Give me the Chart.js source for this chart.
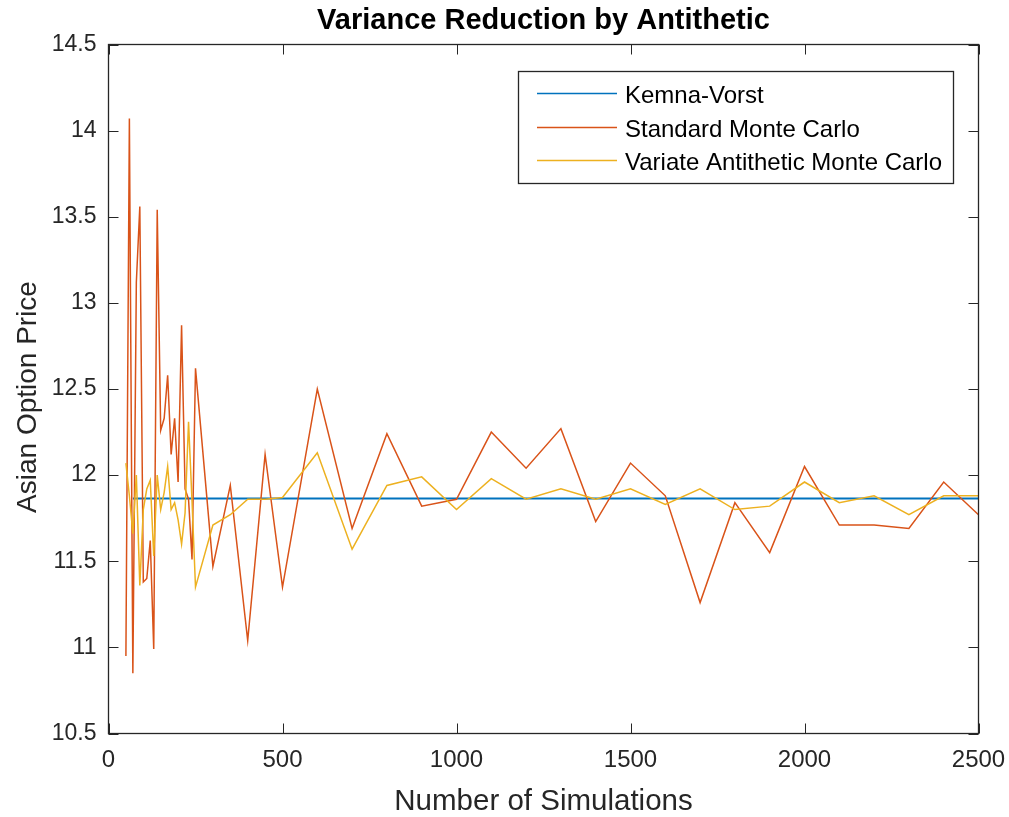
<!DOCTYPE html>
<html>
<head>
<meta charset="utf-8">
<title>Variance Reduction by Antithetic</title>
<script src="https://cdn.jsdelivr.net/npm/chart.js@4.4.1/dist/chart.umd.min.js"></script>
<style>
  html, body { margin: 0; padding: 0; background: #fff; }
  #chart-box { width: 1009px; height: 817px; position: relative; }
</style>
</head>
<body>
<div id="chart-box"><canvas id="price-chart"></canvas></div>
<script>
// number of simulations used for each estimate
const simCounts = [
  50, 60, 70, 80, 90, 100, 110, 120, 130, 140, 150, 160, 170, 180, 190, 200,
  210, 220, 230, 240, 250, 300, 350, 400, 450, 500, 600, 700, 800, 900, 1000,
  1100, 1200, 1300, 1400, 1500, 1600, 1700, 1800, 1900, 2000, 2100, 2200,
  2300, 2400, 2500
];

const standardMC = [
  10.95, 14.07, 10.85, 13.12, 13.56, 11.38, 11.40, 11.62, 10.99, 13.54, 12.26,
  12.33, 12.58, 12.12, 12.33, 11.96, 12.87, 11.92, 11.86, 11.51, 12.62, 11.47,
  11.94, 11.04, 12.12, 11.35, 12.50, 11.69, 12.24, 11.82, 11.86, 12.25, 12.04,
  12.27, 11.73, 12.07, 11.88, 11.26, 11.84, 11.55, 12.05, 11.71, 11.71, 11.69,
  11.96, 11.77
];

const antitheticMC = [
  12.07, 11.88, 11.66, 12.00, 11.36, 11.80, 11.92, 11.97, 11.53, 12.00, 11.80,
  11.90, 12.05, 11.80, 11.84, 11.74, 11.60, 11.78, 12.31, 11.85, 11.35, 11.71,
  11.77, 11.86, 11.86, 11.87, 12.13, 11.57, 11.94, 11.99, 11.80, 11.98, 11.86,
  11.92, 11.86, 11.92, 11.83, 11.92, 11.80, 11.82, 11.96, 11.84, 11.88, 11.77,
  11.88, 11.88
];

const kemnaVorstPrice = 11.864;
const kvStartIndex = 2;

const chartTitle = "Variance Reduction by Antithetic";
const yTitle = "Asian Option Price";
const seriesNames = ["Kemna-Vorst", "Standard Monte Carlo", "Variate Antithetic Monte Carlo"];
const xTicks = [0, 500, 1000, 1500, 2000, 2500];
const yTicks = [10.5, 11, 11.5, 12, 12.5, 13, 13.5, 14, 14.5];

const axisColor = "#262626";
const fontName = "'Liberation Sans', Arial, Helvetica, sans-serif";

function toPoints(values) {
  return values.map((v, i) => ({ x: simCounts[i], y: v }));
}

const kvPoints = simCounts.slice(kvStartIndex).map(n => ({ x: n, y: kemnaVorstPrice }));

// matlab style: box all round with ticks pointing inwards, title over the axes
const boxTicks = {
  id: "boxTicks",
  afterDraw(chart) {
    const ctx = chart.ctx;
    const area = chart.chartArea;
    const xs = chart.scales.x;
    const ys = chart.scales.y;
    const len = 10;
    ctx.save();
    ctx.strokeStyle = axisColor;
    ctx.lineWidth = 1;
    ctx.beginPath();
    xTicks.forEach(t => {
      const px = Math.round(xs.getPixelForValue(t)) + 0.5;
      ctx.moveTo(px, area.bottom);
      ctx.lineTo(px, area.bottom - len);
      ctx.moveTo(px, area.top);
      ctx.lineTo(px, area.top + len);
    });
    yTicks.forEach(t => {
      const py = Math.round(ys.getPixelForValue(t)) + 0.5;
      ctx.moveTo(area.left, py);
      ctx.lineTo(area.left + len, py);
      ctx.moveTo(area.right, py);
      ctx.lineTo(area.right - len, py);
    });
    ctx.stroke();
    ctx.lineWidth = 1.3;
    ctx.strokeRect(area.left, area.top, area.right - area.left, area.bottom - area.top);

    ctx.fillStyle = "#000";
    ctx.font = "bold 29px " + fontName;
    ctx.textAlign = "center";
    ctx.textBaseline = "middle";
    ctx.fillText(chartTitle, (area.left + area.right) / 2, 21);

    // y label sits a little below the axes centre in the original
    ctx.fillStyle = axisColor;
    ctx.font = "28px " + fontName;
    ctx.translate(28, (area.top + area.bottom) / 2 + 8);
    ctx.rotate(-Math.PI / 2);
    ctx.fillText(yTitle, 0, 0);
    ctx.restore();
  }
};

const boxLegend = {
  id: "boxLegend",
  afterDraw(chart) {
    const ctx = chart.ctx;
    const left = 518.5, top = 71.5, w = 435, h = 112;
    const rows = [93.5, 127.5, 160.5];
    ctx.save();
    ctx.fillStyle = "#fff";
    ctx.fillRect(left, top, w, h);
    ctx.strokeStyle = axisColor;
    ctx.lineWidth = 1.3;
    ctx.strokeRect(left, top, w, h);
    ctx.font = "24px " + fontName;
    ctx.textBaseline = "middle";
    chart.data.datasets.forEach((ds, i) => {
      ctx.strokeStyle = ds.borderColor;
      ctx.lineWidth = 1.5;
      ctx.beginPath();
      ctx.moveTo(537, rows[i]);
      ctx.lineTo(617, rows[i]);
      ctx.stroke();
      ctx.fillStyle = "#000";
      ctx.fillText(ds.label, 625, rows[i] + 2.5);
    });
    ctx.restore();
  }
};

const ctx = document.getElementById("price-chart").getContext("2d");
const chart = new Chart(ctx, {
  type: "line",
  data: {
    datasets: [
      {
        label: seriesNames[0],
        data: kvPoints,
        borderColor: "#0072BD",
        borderWidth: 2,
        order: 3,
      },
      {
        label: seriesNames[1],
        data: toPoints(standardMC),
        borderColor: "#D95319",
        borderWidth: 1.5,
        order: 2,
      },
      {
        label: seriesNames[2],
        data: toPoints(antitheticMC),
        borderColor: "#EDB120",
        borderWidth: 1.5,
        order: 1,
      },
    ],
  },
  options: {
    responsive: true,
    maintainAspectRatio: false,
    animation: false,
    events: [],
    elements: {
      point: { radius: 0 },
      line: { tension: 0, fill: false },
    },
    layout: {
      padding: { left: 0, right: 30.5, top: 44.5, bottom: 0 },
    },
    plugins: {
      legend: { display: false },
      tooltip: { enabled: false },
      title: { display: false },
    },
    scales: {
      x: {
        type: "linear",
        min: 0,
        max: 2500,
        afterFit: scale => {
          scale.height = 83.5;
          scale.paddingLeft = 0;
          scale.paddingRight = 0;
        },
        afterBuildTicks: scale => { scale.ticks = xTicks.map(v => ({ value: v })); },
        grid: { display: false, drawTicks: false },
        border: { display: false },
        ticks: {
          color: axisColor,
          padding: 12,
          font: { family: fontName, size: 24 },
          maxRotation: 0,
          callback: v => String(v),
        },
        title: {
          display: true,
          text: "Number of Simulations",
          color: axisColor,
          font: { family: fontName, size: 29.5, lineHeight: 1.05 },
          padding: { top: 0, bottom: 0 },
        },
      },
      y: {
        type: "linear",
        min: 10.5,
        max: 14.5,
        afterFit: scale => {
          scale.width = 108.5;
          scale.paddingTop = 0;
          scale.paddingBottom = 0;
        },
        afterBuildTicks: scale => { scale.ticks = yTicks.map(v => ({ value: v })); },
        grid: { display: false, drawTicks: false },
        border: { display: false },
        ticks: {
          color: axisColor,
          padding: 12,
          font: { family: fontName, size: 23 },
          callback: v => String(v),
        },
        title: { display: false },
      },
    },
  },
  plugins: [boxTicks, boxLegend],
});
</script>
</body>
</html>
